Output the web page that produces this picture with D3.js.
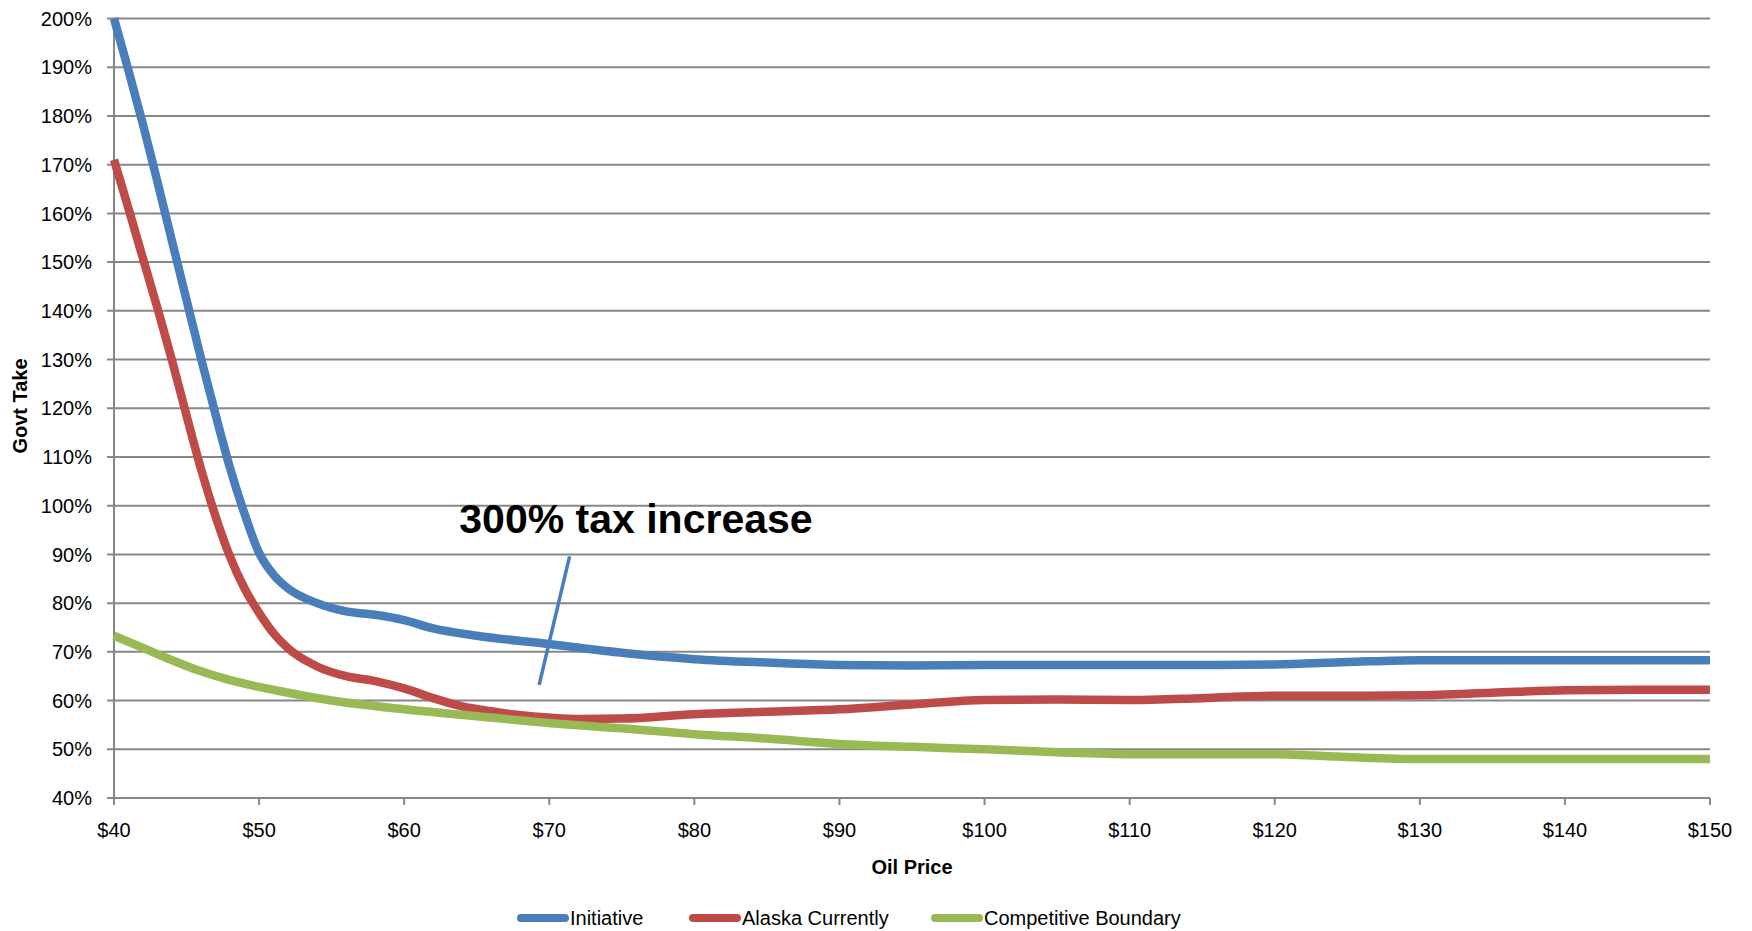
<!DOCTYPE html>
<html><head><meta charset="utf-8">
<script src="https://cdn.jsdelivr.net/npm/d3@7"></script>
<style>
body{margin:0;background:#fff;}
text{font-family:"Liberation Sans",Arial,sans-serif;fill:#000;}
</style></head>
<body><svg id="c" width="1752" height="931"></svg>
<script>
const initiativePrice = [40,41,42,43,44,45,46,47,48,49,50,51,52,54,56,58,60,62,65,70,75,80,85,90,95,100,105,110,115,120,125,130,135,140,145,150];
const initiative      = [200,189.3,178.2,166.4,154.3,142.2,130.2,118.7,107.7,98.3,90.3,85.8,83,80,78.3,77.6,76.5,74.8,73.3,71.6,69.8,68.5,67.8,67.3,67.2,67.3,67.3,67.3,67.3,67.4,67.9,68.3,68.3,68.3,68.3,68.3];
const alaskaPrice = [40,41,42,43,44,45,46,47,48,49,50,51,52,54,56,58,60,62,64,66,68,70,72,75,80,85,90,95,100,105,110,115,120,125,130,135,140,145,150];
const alaska      = [171,161,150.7,140.5,129.8,118.5,107.5,97.8,89.5,83,78,73.8,70.7,67,65,64,62.5,60.5,58.8,57.8,57,56.5,56.2,56.3,57.2,57.7,58.2,59.2,60.1,60.2,60.1,60.5,61,61,61.1,61.6,62.1,62.2,62.2];
const competitivePrice = [40,42,44,46,48,50,52,55,60,65,70,75,80,85,90,95,100,105,110,115,120,125,130,135,140,145,150];
const competitive      = [73.3,70.8,68.3,66,64.2,62.8,61.6,60,58.2,56.8,55.4,54.3,53.1,52.2,51.1,50.5,50,49.4,49,49,49,48.4,48,48,48,48,48];
const seriesNames = ["Initiative","Alaska Currently","Competitive Boundary"];
const seriesColors = ["#4A7EBB","#BE4B48","#98B954"];
const xTicks = [40,50,60,70,80,90,100,110,120,130,140,150];
const yTicks = [40,50,60,70,80,90,100,110,120,130,140,150,160,170,180,190,200];
const annotationText = "300% tax increase";
const annotationTextPos = [63.8, 94.3];
const annotationLine = [[71.4, 89.6],[69.3, 63.2]];

const svg = d3.select("#c");
const x = d3.scaleLinear().domain([40,150]).range([114,1710]);
const y = d3.scaleLinear().domain([40,200]).range([798,18.5]);
const grid = "#878787";

// gridlines
svg.append("g").selectAll("line").data(yTicks).join("line")
  .attr("x1",107).attr("x2",1710).attr("y1",d=>y(d)).attr("y2",d=>y(d))
  .attr("stroke",grid).attr("stroke-width",2);
// y axis line
svg.append("line").attr("x1",x(40)).attr("x2",x(40)).attr("y1",y(200)).attr("y2",805)
  .attr("stroke",grid).attr("stroke-width",2);
// x tick marks
svg.append("g").selectAll("line").data(xTicks).join("line")
  .attr("x1",d=>x(d)).attr("x2",d=>x(d)).attr("y1",y(40)).attr("y2",805)
  .attr("stroke",grid).attr("stroke-width",2);
// y labels
svg.append("g").selectAll("text").data(yTicks).join("text")
  .attr("x",92).attr("y",d=>y(d)).attr("dy","0.36em").attr("text-anchor","end")
  .attr("font-size",20).text(d=>d+"%");
// x labels
svg.append("g").selectAll("text").data(xTicks).join("text")
  .attr("x",d=>x(d)).attr("y",837).attr("text-anchor","middle")
  .attr("font-size",20).text(d=>"$"+d);
// axis titles
svg.append("text").attr("x",912).attr("y",874).attr("text-anchor","middle")
  .attr("font-size",20).attr("font-weight","bold").text("Oil Price");
svg.append("text").attr("transform","translate(27,406) rotate(-90)").attr("text-anchor","middle")
  .attr("font-size",20).attr("font-weight","bold").text("Govt Take");

// series
const seriesData = [
  initiativePrice.map((p,i)=>[p,initiative[i]]),
  alaskaPrice.map((p,i)=>[p,alaska[i]]),
  competitivePrice.map((p,i)=>[p,competitive[i]])
];
const line = d3.line().x(d=>x(d[0])).y(d=>y(d[1])).curve(d3.curveMonotoneX);
svg.append("g").selectAll("path").data(seriesData).join("path")
  .attr("d",line).attr("fill","none")
  .attr("stroke",(d,i)=>seriesColors[i]).attr("stroke-width",8.5)
  .attr("stroke-linejoin","round");

// annotation
svg.append("text").attr("x",x(annotationTextPos[0])).attr("y",y(annotationTextPos[1]))
  .attr("font-size",41).attr("font-weight","bold").text(annotationText);
svg.append("line")
  .attr("x1",x(annotationLine[0][0])).attr("y1",y(annotationLine[0][1]))
  .attr("x2",x(annotationLine[1][0])).attr("y2",y(annotationLine[1][1]))
  .attr("stroke","#4A7EBB").attr("stroke-width",3.5);

// legend
const legX = [517,689,931];
const lg = svg.append("g").selectAll("g").data(seriesNames).join("g")
  .attr("transform",(d,i)=>`translate(${legX[i]},918)`);
lg.append("line").attr("x1",4).attr("x2",48).attr("y1",0).attr("y2",0)
  .attr("stroke",(d,i)=>seriesColors[i]).attr("stroke-width",8).attr("stroke-linecap","round");
lg.append("text").attr("x",53).attr("y",0).attr("dy","0.36em").attr("font-size",20).text(d=>d);
</script></body></html>
